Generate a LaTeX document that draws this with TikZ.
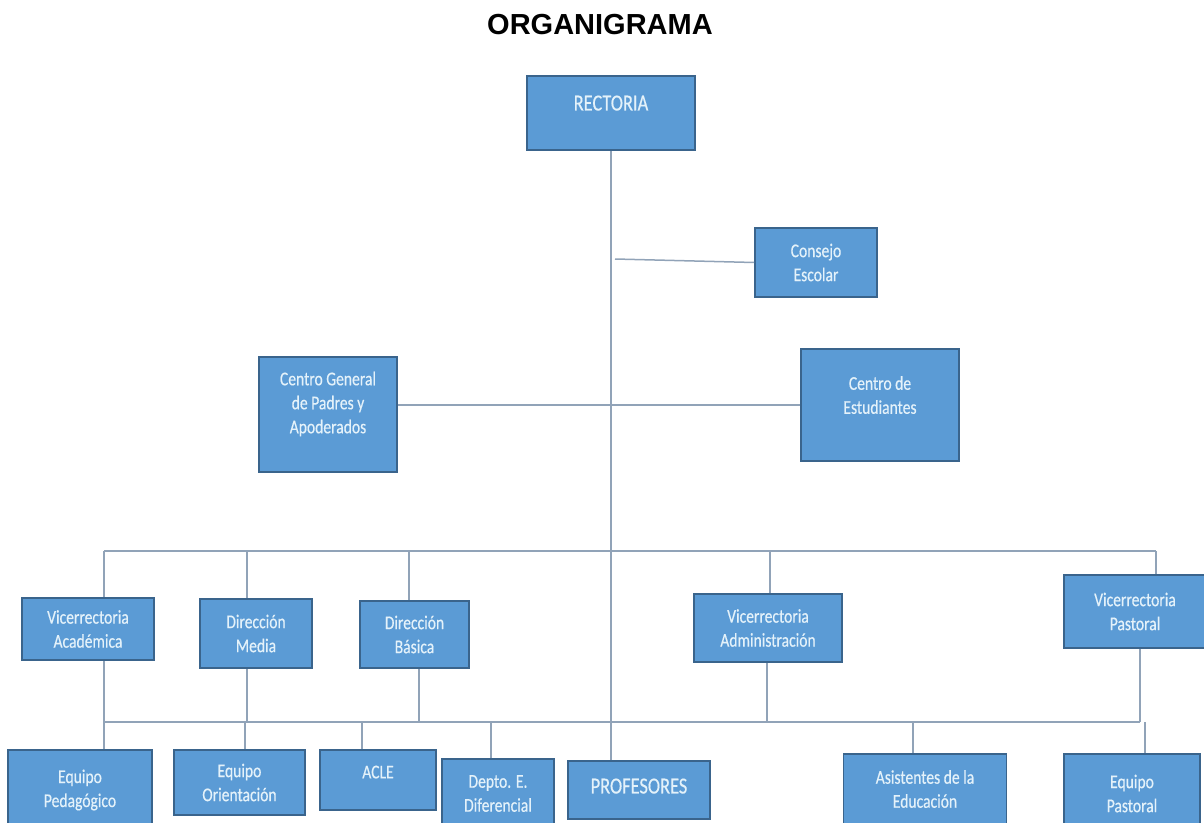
\documentclass[tikz,border=0pt]{standalone}
\usepackage{fontspec}
\setmainfont{Carlito}
\newfontfamily\titlefont{Liberation Sans}
\newfontfamily\boxfont[FakeStretch=0.8,FakeBold=0.4]{Carlito}

\definecolor{boxblue}{RGB}{91,155,213}
\definecolor{boxedge}{RGB}{58,100,140}
\definecolor{linkgray}{RGB}{145,163,184}
\definecolor{boxtext}{RGB}{228,242,250}

\begin{document}
\begin{tikzpicture}[x=1pt,y=1pt,
    unit/.style={draw=boxedge, fill=boxblue, line width=1.6pt, text=boxtext,
      align=center, inner sep=0pt, font=\boxfont\fontsize{19.5}{24}\selectfont},
    capsunit/.style={unit, font=\boxfont\fontsize{23}{28}\selectfont},
    link/.style={draw=linkgray, line width=1.5pt}]

    \path[use as bounding box, fill=white] (0,0) rectangle (1204,-822);

    \node[font=\titlefont\bfseries\fontsize{29}{34}\selectfont] (title) at (600,-25) {ORGANIGRAMA};

    % upper part
    \node[capsunit, minimum width=168pt, minimum height=74pt, text depth=20pt] (rect) at (611,-113) {RECTORIA};
    \node[unit, minimum width=122pt, minimum height=69pt] (cons) at (816,-262.5) {Consejo\\Escolar};
    \node[unit, minimum width=138pt, minimum height=115pt, text depth=24pt] (cgpa) at (328,-414.5) {Centro General\\de Padres y\\Apoderados};
    \node[unit, minimum width=158pt, minimum height=112pt, text depth=20pt] (cest) at (880,-405) {Centro de\\Estudiantes};

    % second level
    \node[unit, minimum width=132pt, minimum height=62pt] (vaca) at (88,-629) {Vicerrectoria\\Académica};
    \node[unit, minimum width=112pt, minimum height=69pt] (dmed) at (256,-633.5) {Dirección\\Media};
    \node[unit, minimum width=109pt, minimum height=67pt] (dbas) at (414.5,-634.5) {Dirección\\Básica};
    \node[unit, minimum width=148pt, minimum height=68pt] (vadm) at (768,-628) {Vicerrectoria\\Administración};
    \node[unit, minimum width=142pt, minimum height=73pt] (vpas) at (1135,-611.5) {Vicerrectoria\\Pastoral};

    % third level
    \node[unit, minimum width=144pt, minimum height=80pt] (eped) at (80,-790) {Equipo\\Pedagógico};
    \node[unit, minimum width=131pt, minimum height=65pt] (eori) at (239.5,-782.5) {Equipo\\Orientación};
    \node[unit, minimum width=116pt, minimum height=60pt, text depth=16pt] (acle) at (378,-780) {ACLE};
    \node[unit, minimum width=112pt, minimum height=69pt] (depto) at (498,-793.5) {Depto. E.\\Diferencial};
    \node[capsunit, minimum width=142pt, minimum height=58pt, text depth=8pt] (prof) at (639,-790) {PROFESORES};
    \node[unit, minimum width=163pt, minimum height=70pt] (asis) at (925,-789) {Asistentes de la\\Educación};
    \node[unit, minimum width=136pt, minimum height=79pt] (epas) at (1132,-793.5) {Equipo\\Pastoral};

    % connectors
    \draw[link] (rect.south) -- (rect.south |- prof.north);
    \coordinate (cej) at (615,-259);
    \draw[link] (cej) -- (cons.west);
    \draw[link] (cgpa.east |- cest.west) -- (cest.west);

    \coordinate (topl) at (104,-551);
    \coordinate (topr) at (1156,-551);
    \coordinate (lowl) at (104,-722);
    \coordinate (lowr) at (1140,-722);
    \draw[link] (topl) -- (topr);
    \draw[link] (lowl) -- (lowr);

    \foreach \x/\n in {104/vaca, 247/dmed, 409/dbas, 770/vadm, 1156/vpas}
      \draw[link] (\x,0 |- topl) -- (\x,0 |- \n.north);
    \foreach \x/\n in {104/vaca, 247/dmed, 419/dbas, 767/vadm, 1140/vpas}
      \draw[link] (\x,0 |- \n.south) -- (\x,0 |- lowl);
    \foreach \x/\n in {104/eped, 245/eori, 362/acle, 491/depto, 913/asis, 1145/epas}
      \draw[link] (\x,0 |- lowl) -- (\x,0 |- \n.north);

\end{tikzpicture}
\end{document}
